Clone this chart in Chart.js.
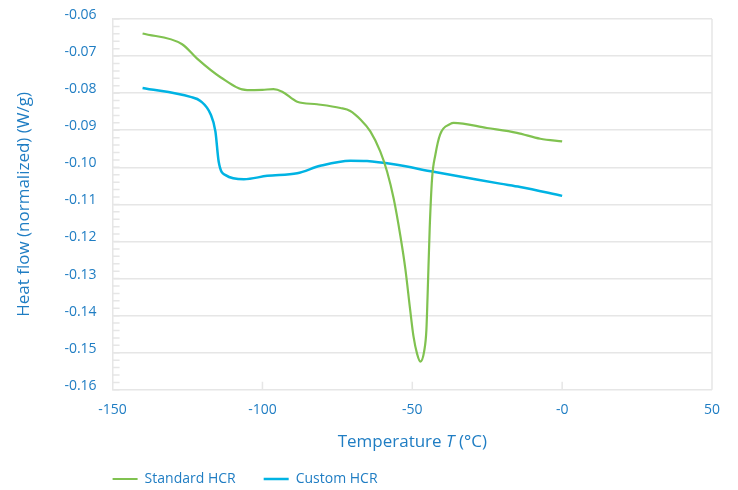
<!DOCTYPE html>
<html>
<head>
<meta charset="utf-8">
<script src="https://cdn.jsdelivr.net/npm/chart.js@4.4.1/dist/chart.umd.min.js"></script>
<style>
  html, body { margin: 0; padding: 0; background: #fff; }
  #wrap { width: 738px; height: 490px; }
</style>
</head>
<body>
<div id="wrap"><canvas id="dscChart"></canvas></div>
<script>
// Standard HCR - temperature (°C) / heat flow (W/g)
var standardT = [-140, -126.8, -121.8, -114, -105.1, -100, -96.3, -93.4, -88.4, -81.8, -74, -70.7, -67.3, -64, -60.7, -58.4, -56.2, -54, -52.3, -50.7, -49.6, -48.4, -47.3, -46, -45.3, -44.9, -44.2, -43.4, -42.3, -40.7, -37.3, -36.2, -25.1, -15.1, -7.3, 0];
var standardHF = [-0.0639, -0.0668, -0.0707, -0.0757, -0.0792, -0.0791, -0.0789, -0.0796, -0.0823, -0.0830, -0.0840, -0.0848, -0.0871, -0.0903, -0.0957, -0.1012, -0.1085, -0.1184, -0.1275, -0.1385, -0.1456, -0.1503, -0.1524, -0.1494, -0.1439, -0.1347, -0.1166, -0.1030, -0.0966, -0.0911, -0.0883, -0.0880, -0.0894, -0.0907, -0.0923, -0.0930];

// Custom HCR
var customT = [-140, -124, -120.7, -117.3, -115.7, -114.6, -112.3, -106.2, -98.4, -88.4, -80.7, -70.7, -65.1, -56.2, -42.9, -31.8, -20.7, -14, 0];
var customHF = [-0.0786, -0.0810, -0.0821, -0.0857, -0.0903, -0.0985, -0.1021, -0.1032, -0.1023, -0.1016, -0.0996, -0.0982, -0.0983, -0.0992, -0.1012, -0.1028, -0.1044, -0.1053, -0.1077];

var seriesNames = ['Standard HCR', 'Custom HCR'];
var xTicks = [-150, -100, -50, 0, 50];
var yTicks = [-0.16, -0.15, -0.14, -0.13, -0.12, -0.11, -0.10, -0.09, -0.08, -0.07, -0.06];

var textBlue = '#1f7dc3';
var gridGrey = '#e6e6e6';
var fontName = '"Open Sans", "Noto Sans", sans-serif';
var titleSize = 17;

function toPoints(xs, ys){
	var pts = [];
	for (var i = 0; i < xs.length; i++) pts.push({x: xs[i], y: ys[i]});
	return pts;
}

//short inner ticks + right border + italic x title
var decoPlugin = {
	id: 'deco',
	afterLayout: function(chart){
		//legend lined up with the plot area, box stretched so it is not clipped
		var lg = chart.legend;
		lg.left -= 28;
		lg.right -= 28;
		lg.top -= 8;
		lg.bottom = chart.height;
		lg.height = lg.bottom - lg.top;
	},
	afterDatasetsDraw: function(chart){
		var ctx = chart.ctx, xs = chart.scales.x, ys = chart.scales.y, area = chart.chartArea;
		ctx.save();
		ctx.strokeStyle = gridGrey;
		ctx.lineWidth = 1.5;
		ctx.beginPath();
		//minor ticks on y
		for (var v = -0.16; v <= -0.0599; v += 0.002) {
			var py = ys.getPixelForValue(v);
			ctx.moveTo(area.left, py);
			ctx.lineTo(area.left + 7, py);
		}
		//x ticks pointing up
		for (var i = 1; i < xTicks.length - 1; i++) {
			var px = xs.getPixelForValue(xTicks[i]);
			ctx.moveTo(px, area.bottom);
			ctx.lineTo(px, area.bottom - 8);
		}
		//right border
		var rx = xs.getPixelForValue(xTicks[xTicks.length - 1]);
		ctx.moveTo(rx, area.top);
		ctx.lineTo(rx, area.bottom);
		ctx.stroke();
		ctx.restore();
	},
	afterDraw: function(chart){
		var ctx = chart.ctx, xs = chart.scales.x;
		var parts = [['Temperature ', 'normal'], ['T', 'italic'], [' (°C)', 'normal']];
		ctx.save();
		ctx.fillStyle = textBlue;
		ctx.textBaseline = 'middle';
		ctx.textAlign = 'left';
		var total = 0;
		parts.forEach(function(p){ ctx.font = p[1] + ' ' + titleSize + 'px ' + fontName; total += ctx.measureText(p[0]).width; });
		var cx = (chart.chartArea.left + chart.chartArea.right) / 2 - total / 2;
		var cy = xs.bottom - titleSize * 1.2 / 2;
		parts.forEach(function(p){
			ctx.font = p[1] + ' ' + titleSize + 'px ' + fontName;
			ctx.fillText(p[0], cx, cy);
			cx += ctx.measureText(p[0]).width;
		});
		ctx.restore();
	}
};

var ctx = document.getElementById('dscChart').getContext('2d');
new Chart(ctx, {
	type: 'line',
	data: {
		datasets: [
			{
				label: seriesNames[0],
				data: toPoints(standardT, standardHF),
				borderColor: '#80c250',
				backgroundColor: '#80c250',
				borderWidth: 2.2,
				pointRadius: 0,
				cubicInterpolationMode: 'monotone'
			},
			{
				label: seriesNames[1],
				data: toPoints(customT, customHF),
				borderColor: '#00b3e3',
				backgroundColor: '#00b3e3',
				borderWidth: 2.5,
				pointRadius: 0,
				cubicInterpolationMode: 'monotone'
			}
		]
	},
	options: {
		responsive: true,
		maintainAspectRatio: false,
		animation: false,
		layout: { padding: { left: 10, right: 26, top: 19, bottom: 0 } },
		scales: {
			x: {
				type: 'linear',
				min: xTicks[0],
				max: xTicks[xTicks.length - 1],
				afterBuildTicks: function(axis){ axis.ticks = xTicks.map(function(v){ return {value: v}; }); },
				grid: { display: false },
				border: { display: false },
				ticks: {
					color: textBlue,
					font: { family: fontName, size: 14 },
					padding: 4,
					callback: function(v){ return v === 0 ? '-0' : v; }
				},
				title: {
					display: true,
					text: 'Temperature T (°C)',
					color: 'rgba(0,0,0,0)',
					font: { family: fontName, size: titleSize },
					padding: { top: 9, bottom: 0 }
				}
			},
			y: {
				min: -0.16,
				max: -0.06,
				afterBuildTicks: function(axis){ axis.ticks = yTicks.map(function(v){ return {value: v}; }); },
				//labels sit a little above the lines, so no extra room needed on top
				afterFit: function(axis){ axis.paddingTop = 0; },
				grid: { color: gridGrey, lineWidth: 1.5, drawTicks: false },
				border: { color: gridGrey, width: 1.5 },
				ticks: {
					color: textBlue,
					font: { family: fontName, size: 14 },
					padding: 16,
					labelOffset: -4,
					callback: function(v){ return v.toFixed(2); }
				},
				title: {
					display: true,
					text: 'Heat flow (normalized) (W/g)',
					color: textBlue,
					font: { family: fontName, size: titleSize },
					padding: { top: 4, bottom: 14 }
				}
			}
		},
		plugins: {
			tooltip: { enabled: false },
			legend: {
				position: 'bottom',
				align: 'start',
				fullSize: false,
				maxHeight: 38,
				labels: {
					usePointStyle: true,
					pointStyle: 'line',
					pointStyleWidth: 25,
					boxHeight: 14,
					color: textBlue,
					font: { family: fontName, size: 14 },
					padding: 28
				}
			}
		}
	},
	plugins: [decoPlugin]
});
</script>
</body>
</html>
